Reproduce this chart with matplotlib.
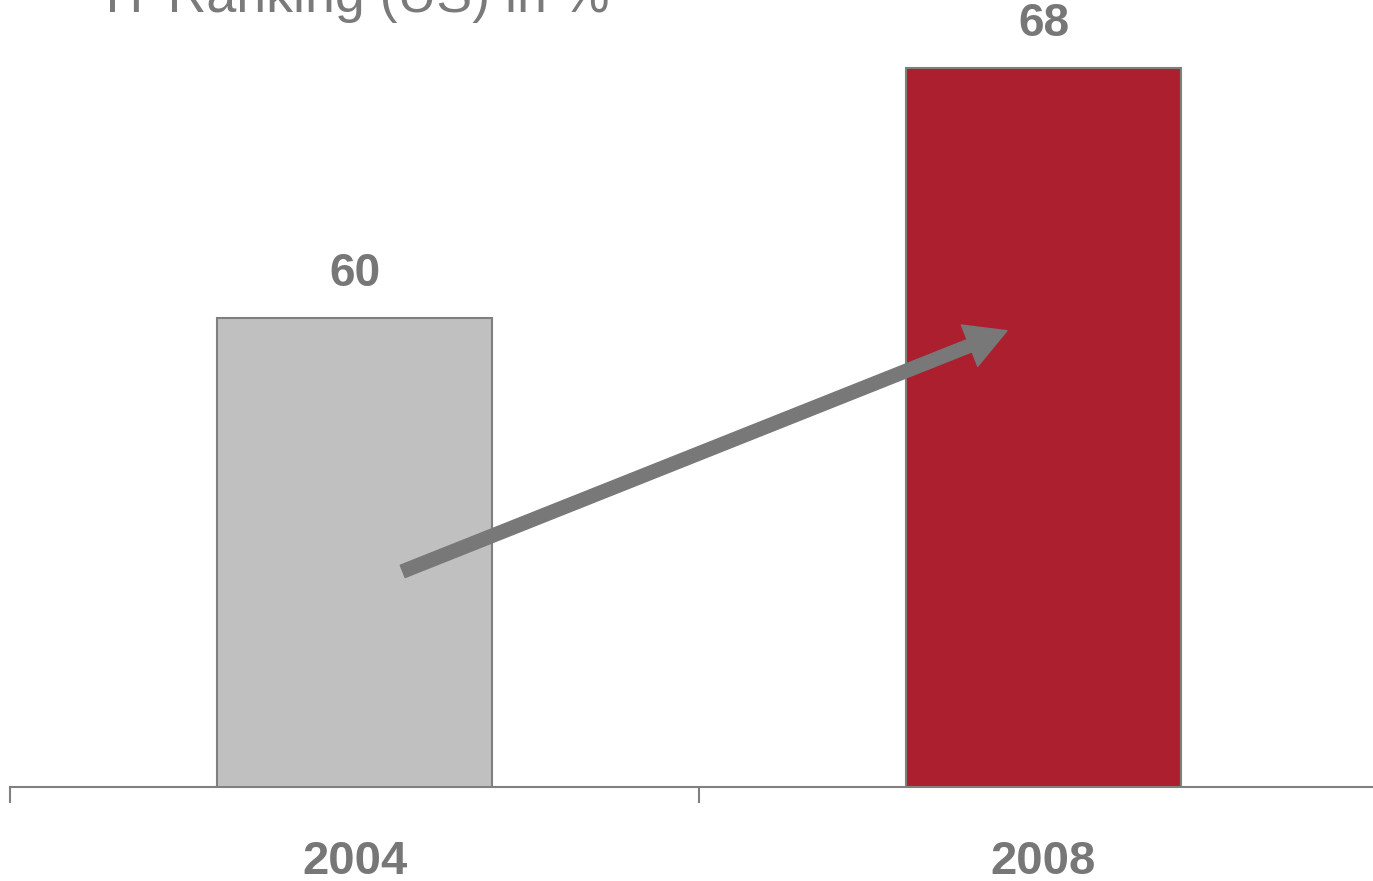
import numpy as np
import matplotlib.pyplot as plt
from matplotlib.patches import FancyArrowPatch

plt.rcParams['font.family'] = ['Liberation Sans', 'DejaVu Sans']

# IT-Ranking values per year
years = ['2004', '2008']
ranking = [60, 68]
bar_colors = ['#c0c0c0', '#ab1f2f']
title = 'IT-Ranking (US) in %'

grey = '#777777'

fig = plt.figure(figsize=(13.73, 8.81), dpi=100)
ax = fig.add_axes([10/1373., 1-787/881., 1378/1373., 787/881.])

x = np.arange(len(years))
ax.bar(x, ranking, width=0.4, bottom=0, color=bar_colors,
       edgecolor='#7f7f7f', linewidth=1.5, zorder=2)

for xi, v in zip(x, ranking):
    ax.annotate('%d' % v, (xi, v), xytext=(0, 16), textcoords='offset points',
                ha='center', va='bottom', fontsize=33, fontweight='bold', color=grey)

ax.set_xlim(-0.5, 1.5)
ax.set_ylim(45, 45 + 787/31.25)

# trend arrow from 2004 to 2008
arr = FancyArrowPatch((0.07, 51.9), (0.947, 59.6),
                      arrowstyle='simple,head_length=2.9,head_width=3.2,tail_width=0.95',
                      mutation_scale=10, color='#777877', shrinkA=0, shrinkB=0, zorder=3)
ax.add_patch(arr)

for s in ['top', 'right', 'left']:
    ax.spines[s].set_visible(False)
ax.spines['bottom'].set_color('#808080')
ax.spines['bottom'].set_linewidth(1.5)
ax.set_yticks([])

ax.set_xticks(x)
ax.set_xticklabels(years, fontsize=34, fontweight='bold', color=grey)
ax.tick_params(axis='x', which='major', length=0, pad=38)
ax.set_xticks([-0.5, 0.5, 1.5], minor=True)
ax.tick_params(axis='x', which='minor', length=11.5, width=1.5, color='#808080')

fig.text(105/1373., 1-12/881., title, fontsize=38.7, color='#7a7a7a',
         ha='left', va='baseline')

plt.savefig('out.png', dpi=100)
